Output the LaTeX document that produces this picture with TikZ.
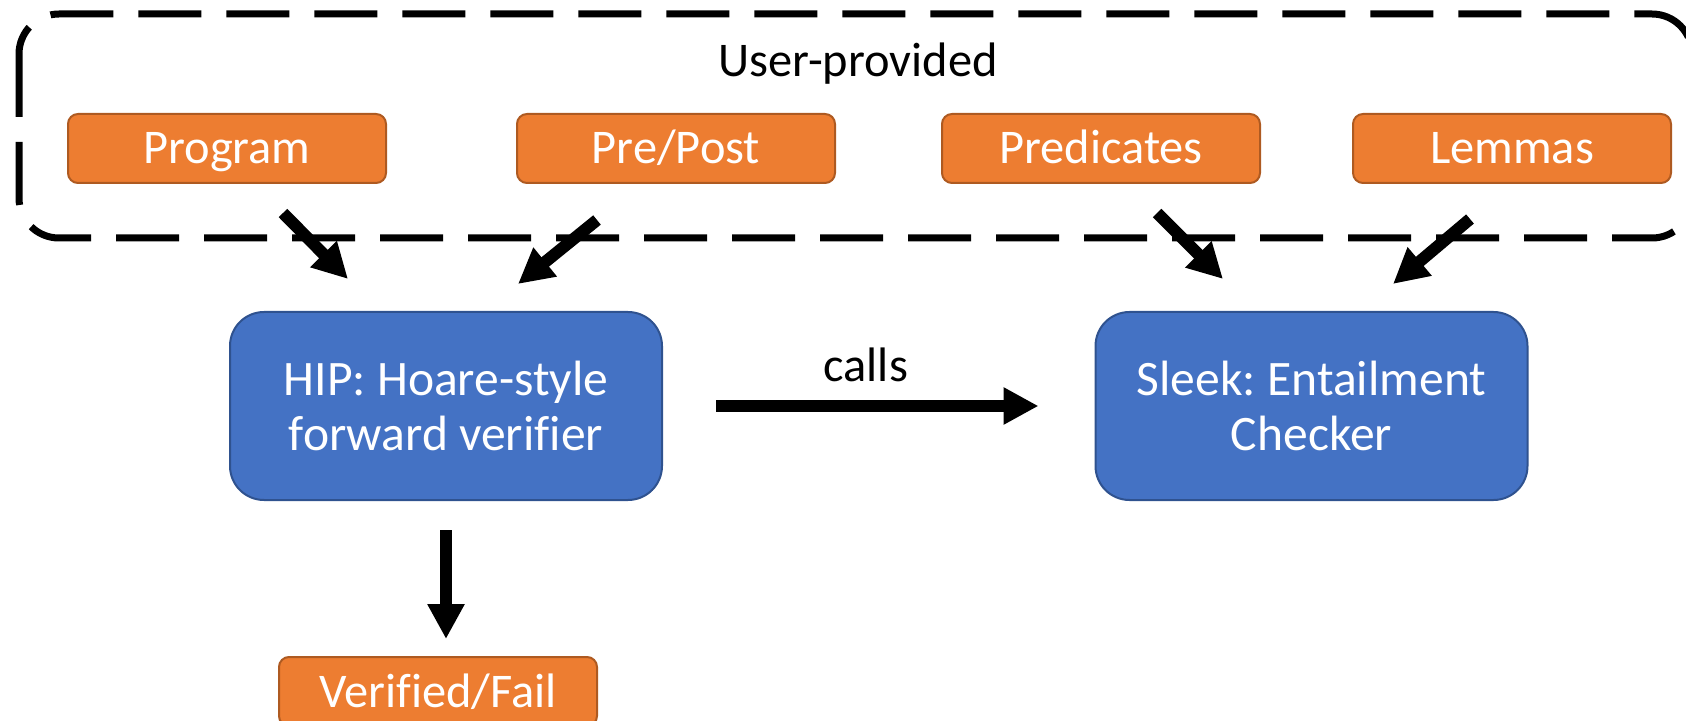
\documentclass[tikz,border=0pt]{standalone}
\usepackage{fontspec}
\setmainfont{Carlito}[Ligatures=NoCommon]
\frenchspacing
\usetikzlibrary{positioning,arrows.meta,calc}
\definecolor{inorange}{HTML}{ED7D31}
\definecolor{inorangeline}{HTML}{AE5A21}
\definecolor{procblue}{HTML}{4472C4}
\definecolor{procblueline}{HTML}{2F528F}
\tikzset{
  inbox/.style={draw=inorangeline,fill=inorange,line width=1pt,
    rounded corners=5pt,minimum width=159pt,minimum height=34.5pt,
    inner sep=0pt,text height=15.5pt,text depth=0pt,text=white,
    font=\fontsize{24.2}{29}\selectfont},
  procbox/.style={draw=procblueline,fill=procblue,line width=1pt,
    rounded corners=17pt,minimum width=216pt,minimum height=94pt,
    align=center,text=white,font=\fontsize{24.8}{27.5}\selectfont},
  userbox/.style={draw=black,line width=3.5pt,
    dash pattern=on 31.5pt off 12.5pt,rounded corners=20pt},
  flow/.style={-{Triangle[length=17.5pt,width=17.5pt]},line width=6pt},
  flowlbl/.style={font=\fontsize{24.2}{29}\selectfont,anchor=base,inner sep=0pt},
}

\begin{document}
\begin{tikzpicture}[x=0.5pt,y=-0.5pt]
  \useasboundingbox (0,0) rectangle (1686,721);
  \draw[userbox] (19,14) rectangle (1692,238);
  \node[flowlbl] (usr) at (858,77) {User-provided};
  \node[inbox] (prog) at (227,148.5) {Program};
  \node[inbox] (pre) at (676,148.5) {Pre/Post};
  \node[inbox] (pred) at (1101,148.5) {Predicates};
  \node[inbox] (lem) at (1512,148.5) {Lemmas};
  \node[procbox] (hip) at (446,406) {HIP: Hoare-style\\forward verifier};
  \node[procbox] (sleek) at (1311.5,406) {Sleek: Entailment\\Checker};
  \node[inbox] (res) at (438,691.5) {Verified/Fail};
  % loose ends of the input arrows
  \coordinate (progout) at (283,213);
  \coordinate (preout) at (597,220);
  \coordinate (predout) at (1157,213);
  \coordinate (lemout) at (1470,219);
  \coordinate (hipin1) at (348,279);
  \coordinate (hipin2) at (518,284);
  \coordinate (sleekin1) at (1223,279);
  \coordinate (sleekin2) at (1393,284);
  \draw[flow] (progout) -- (hipin1);
  \draw[flow] (preout) -- (hipin2);
  \draw[flow] (predout) -- (sleekin1);
  \draw[flow] (lemout) -- (sleekin2);
  \draw[flow,shorten <=26.5pt,shorten >=28pt] (hip) --
    node[flowlbl,pos=0.47,yshift=12pt]{calls} (sleek);
  \draw[flow,shorten <=14.5pt,shorten >=8.5pt] (hip.south) -- (hip.south|-res.north);
\end{tikzpicture}
\end{document}
